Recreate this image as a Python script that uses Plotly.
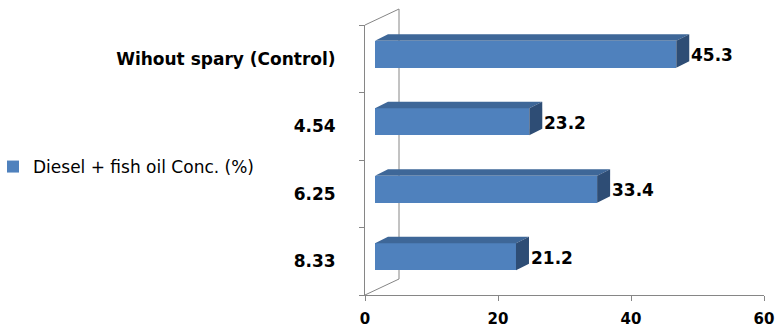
import plotly.graph_objects as go

# Treatments (top to bottom) and their values
categories = ["Wihout spary (Control)", "4.54", "6.25", "8.33"]
values = [45.3, 23.2, 33.4, 21.2]
series_name = "Diesel + fish oil Conc. (%)"
x_ticks = [0, 20, 40, 60]

# Figure geometry (pixels)
W, H = 778, 330
ML, MR, MT, MB = 365, 14, 25, 35
PW, PH = W - ML - MR, H - MT - MB
X_RANGE = (0, 60)
Y_RANGE = (-0.5, 3.5)
px_per_x = PW / (X_RANGE[1] - X_RANGE[0])
px_per_y = PH / (Y_RANGE[1] - Y_RANGE[0])

# Pseudo-3D settings
WALL_DX, WALL_DY = 34, 16      # depth of the back wall in px
BAR_DX, BAR_DY = 13, 6.5       # depth of each bar in px
BAR_SHIFT_X, BAR_SHIFT_Y = 10, 4.5  # bar front face sits inside the box
bar_width = 27 / px_per_y
bar_base = BAR_SHIFT_X / px_per_x
bar_offset = -bar_width / 2 + BAR_SHIFT_Y / px_per_y
ddx = BAR_DX / px_per_x
ddy = BAR_DY / px_per_y

FRONT = "#4F81BD"
TOP = "#3E6798"
SIDE = "#2E4D75"
AXIS = "#868686"

n = len(categories)
ypos = [n - 1 - i for i in range(n)]  # first category at the top

fig = go.Figure()
fig.add_trace(go.Bar(
    x=values, y=ypos, base=bar_base, orientation="h",
    width=bar_width, offset=bar_offset,
    marker=dict(color=FRONT, line=dict(width=0)),
    name=series_name, showlegend=True,
))

shapes = []
annotations = []
for v, y in zip(values, ypos):
    y0 = y + bar_offset
    y1 = y0 + bar_width
    x0 = bar_base
    x1 = bar_base + v
    top = f"M{x0},{y1} L{x1},{y1} L{x1 + ddx},{y1 + ddy} L{x0 + ddx},{y1 + ddy} Z"
    side = f"M{x1},{y0} L{x1},{y1} L{x1 + ddx},{y1 + ddy} L{x1 + ddx},{y0 + ddy} Z"
    shapes.append(dict(type="path", path=top, xref="x", yref="y",
                       fillcolor=TOP, line=dict(width=0)))
    shapes.append(dict(type="path", path=side, xref="x", yref="y",
                       fillcolor=SIDE, line=dict(width=0)))
    annotations.append(dict(
        x=x1 + ddx, y=(y0 + y1) / 2, xref="x", yref="y",
        text=f"{v}", showarrow=False, xanchor="left", yanchor="middle",
        xshift=0, yshift=-1,
        font=dict(family="DejaVu Sans", size=17, color="black", weight="bold"),
    ))

# Back wall edges
wx = WALL_DX / PW
wy = WALL_DY / PH
wall = dict(color=AXIS, width=1)
shapes += [
    dict(type="line", xref="paper", yref="paper", x0=wx, x1=wx, y0=wy, y1=1 + wy,
         line=wall, layer="below"),
    dict(type="line", xref="paper", yref="paper", x0=0, x1=wx, y0=1, y1=1 + wy,
         line=wall, layer="below"),
    dict(type="line", xref="paper", yref="paper", x0=0, x1=wx, y0=0, y1=wy,
         line=wall, layer="below"),
]

fig.update_layout(
    width=W, height=H,
    margin=dict(l=ML, r=MR, t=MT, b=MB, autoexpand=False),
    paper_bgcolor="white", plot_bgcolor="white",
    shapes=shapes, annotations=annotations,
    bargap=0,
    legend=dict(
        x=-(ML + 7) / PW, xanchor="left",
        y=(295 - 167) / PH, yanchor="middle",
        font=dict(family="DejaVu Sans", size=17, color="black"),
        bgcolor="rgba(0,0,0,0)", itemwidth=30,
    ),
    xaxis=dict(
        range=list(X_RANGE), tickvals=x_ticks, ticktext=[str(t) for t in x_ticks],
        showgrid=False, zeroline=False, automargin=False,
        showline=True, linecolor=AXIS, linewidth=1,
        ticks="outside", ticklen=5, tickcolor=AXIS,
        ticklabelstandoff=5,
        tickfont=dict(family="DejaVu Sans", size=15, color="black", weight="bold"),
    ),
    yaxis=dict(
        range=list(Y_RANGE), tickvals=ypos, ticktext=categories,
        showgrid=False, zeroline=False, automargin=False,
        showline=True, linecolor=AXIS, linewidth=1,
        ticks="", ticklabelstandoff=25,
        minor=dict(tickvals=[y - 0.5 for y in range(n + 1)], ticks="outside",
                   ticklen=5, tickcolor=AXIS, showgrid=False),
        tickfont=dict(family="DejaVu Sans", size=17, color="black", weight="bold"),
    ),
)

fig.write_html("out.html")
